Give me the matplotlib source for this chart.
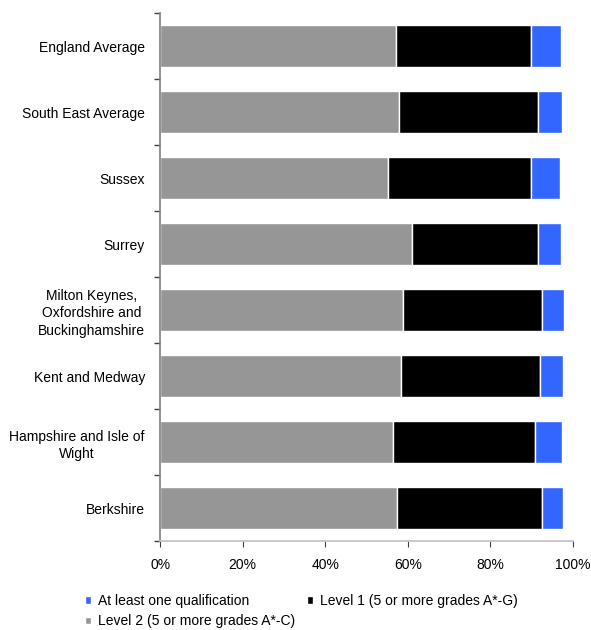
import matplotlib
matplotlib.use("Agg")
import matplotlib.pyplot as plt
import numpy as np
from matplotlib.ticker import PercentFormatter, FixedLocator

plt.rcParams["font.family"] = ["Liberation Sans", "DejaVu Sans"]

# Areas, top to bottom as drawn
areas = [
    "England Average",
    "South East Average",
    "Sussex",
    "Surrey",
    "Milton Keynes,\nOxfordshire and\nBuckinghamshire",
    "Kent and Medway",
    "Hampshire and Isle of\nWight",
    "Berkshire",
]

# Cumulative attainment shares (%)
level2 = [57.1, 57.9, 55.2, 61.1, 58.9, 58.4, 56.5, 57.3]
level1 = [89.9, 91.5, 89.9, 91.5, 92.5, 92.0, 90.7, 92.5]
at_least_one = [97.0, 97.3, 96.8, 97.0, 97.8, 97.6, 97.3, 97.6]

GREY = "#969696"
BLACK = "#000000"
BLUE = "#3366FF"

l2 = np.array(level2)
l1 = np.array(level1)
al = np.array(at_least_one)
y = np.arange(len(areas))

fig = plt.figure(figsize=(5.91, 6.30), dpi=100)
ax = fig.add_axes([0.271, 0.141, 0.6985, 0.838])

h = 0.64
b_l2 = ax.barh(y, l2, height=h, color=GREY, edgecolor="white", linewidth=1,
               label="Level 2 (5 or more grades A*-C)")
b_l1 = ax.barh(y, l1 - l2, left=l2, height=h, color=BLACK, edgecolor="white",
               linewidth=1, label="Level 1 (5 or more grades A*-G)")
b_al = ax.barh(y, al - l1, left=l1, height=h, color=BLUE, edgecolor="white",
               linewidth=1, label="At least one qualification")

ax.set_xlim(0, 100)
ax.set_ylim(len(areas) - 0.5, -0.5)
ax.xaxis.set_major_locator(FixedLocator([0, 20, 40, 60, 80, 100]))
ax.xaxis.set_major_formatter(PercentFormatter(decimals=0))

ax.set_yticks(y)
ax.set_yticklabels(areas, multialignment="center", linespacing=1.3)
ax.set_yticks(np.arange(-0.5, len(areas), 1), minor=True)
ax.tick_params(axis="y", which="major", length=0, pad=11, labelsize=10)
ax.tick_params(axis="y", which="minor", length=4, width=1, color="#404040")
ax.tick_params(axis="x", which="major", length=4, color="#404040",
               labelsize=10, pad=8)

for side in ("top", "right"):
    ax.spines[side].set_visible(False)
ax.spines["left"].set_color("#808080")
ax.spines["left"].set_linewidth(1.2)
ax.spines["bottom"].set_color("#c0c0c0")
ax.spines["bottom"].set_linewidth(1.2)

# Row-wise layout: first row holds two entries, second row one
fig.legend([b_al, b_l2, b_l1],
           [b_al.get_label(), b_l2.get_label(), b_l1.get_label()],
           loc="lower left", bbox_to_anchor=(0.123, -0.017), ncol=2,
           frameon=False, fontsize=10, handlelength=0.45, handleheight=0.45,
           handletextpad=0.5, columnspacing=0.8, labelspacing=0.45)

fig.savefig("out.png", dpi=100)
